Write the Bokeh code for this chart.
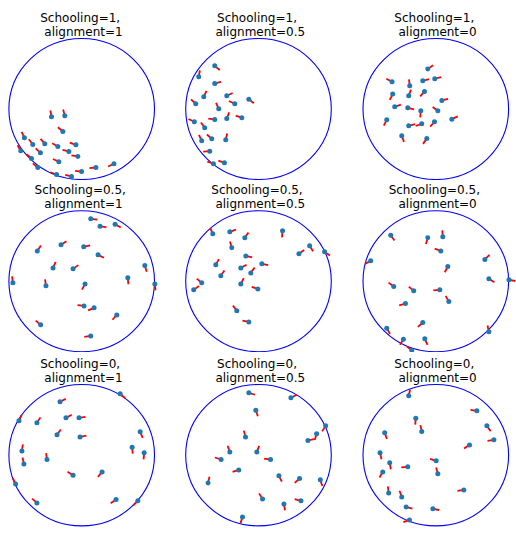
from bokeh.plotting import figure
from bokeh.layouts import column, row
from bokeh.models import Range1d, ColumnDataSource
from bokeh.embed import file_html
from bokeh.resources import INLINE
from bokeh.core.properties import value

schooling_levels = ["1", "0.5", "0"]
alignment_levels = ["1", "0.5", "0"]

# fish positions (unit circle) and heading angles (degrees) per panel
s1_a1_x = [-0.415, -0.232, -0.259, -0.787, -0.672, -0.507, -0.328, -0.080, -0.837, -0.567,
           -0.177, -0.053, -0.690, -0.314, -0.603, 0.195, 0.443, -0.002, -0.346, -0.140]
s1_a1_y = [-0.110, -0.097, -0.319, -0.408, -0.503, -0.494, -0.532, -0.508, -0.593, -0.622,
           -0.602, -0.673, -0.702, -0.749, -0.830, -0.830, -0.777, -0.887, -0.929, -0.957]
s1_a1_dir = [100, 105, 140, 115, 127, 130, 150, 160, 120, 137,
             165, 170, 140, 155, 140, 185, 205, 175, 160, 165]

s1_a05_x = [-0.601, -0.821, -0.601, -0.752, -0.436, -0.133, -0.862, -0.326, -0.546, -0.881,
            -0.601, -0.436, -0.229, -0.739, -0.780, -0.642, -0.450, -0.670, -0.619, -0.468]
s1_a05_y = [0.612, 0.457, 0.362, 0.173, 0.188, 0.140, 0.074, 0.074, 0.003, -0.181,
            -0.148, -0.134, -0.125, -0.267, -0.452, -0.423, -0.437, -0.598, -0.777, -0.763]
s1_a05_dir = [320, 80, 15, 65, 25, 320, 137, 155, 115, 155,
              172, 68, 160, 125, 115, 138, 77, 185, 160, 160]

s1_a0_x = [-0.110, -0.601, -0.358, -0.179, -0.014, -0.592, -0.372, -0.156, 0.083, -0.564,
           -0.385, -0.206, 0.028, -0.674, -0.372, -0.193, -0.018, 0.220, -0.468, -0.124]
s1_a0_y = [0.566, 0.386, 0.329, 0.400, 0.429, 0.211, 0.188, 0.249, 0.121, 0.031,
           0.017, -0.026, -0.026, -0.154, -0.238, -0.210, -0.181, -0.144, -0.380, -0.419]
s1_a0_dir = [37, 152, 97, 15, 15, 243, 70, 230, 15, 20,
             347, 265, 143, 243, 15, 200, 228, 25, 290, 235]

s05_a1_x = [0.124, 0.252, 0.459, -0.284, 0.028, -0.610, 0.225, -0.394, -0.119, 0.867,
            0.633, -0.945, -0.491, 0.046, 1.005, 0.032, 0.170, 0.482, -0.564, 0.124]
s05_a1_y = [0.885, 0.781, 0.809, 0.516, 0.487, 0.430, 0.374, 0.189, 0.175, 0.222,
            0.048, -0.023, -0.066, -0.038, -0.038, -0.350, -0.378, -0.478, -0.619, -0.776]
s05_a1_dir = [352, 348, 330, 33, 13, 56, 333, 65, 35, 287,
              275, 97, 98, 242, 275, 173, 203, 228, 140, 188]

s05_a05_x = [-0.628, -0.394, -0.188, 0.330, -0.367, 0.702, 0.555, 0.908, -0.174, -0.587,
             0.046, -0.243, -0.106, -0.518, -0.780, -0.243, -0.890, -0.009, -0.298, -0.133]
s05_a05_y = [0.672, 0.700, 0.615, 0.714, 0.473, 0.502, 0.388, 0.416, 0.359, 0.232,
             0.246, 0.189, 0.118, 0.076, -0.023, -0.038, -0.123, -0.109, -0.420, -0.577]
s05_a05_dir = [113, 20, 56, 265, 106, 302, 36, 325, 347, 61,
               348, 28, 54, 56, 140, 63, 36, 162, 127, 168]

s05_a0_x = [-0.619, -0.110, 0.096, 0.069, -0.894, 0.674, 0.165, 0.729, 1.005, -0.578,
            -0.303, 0.055, 0.179, -0.417, -0.179, -0.674, 0.729, -0.445, -0.151, -0.330]
s05_a0_y = [0.653, 0.615, 0.629, 0.430, 0.289, 0.308, 0.209, 0.033, 0.019, -0.076,
            -0.137, -0.123, -0.288, -0.317, -0.586, -0.667, -0.718, -0.822, -0.818, -0.983]
s05_a0_dir = [305, 253, 95, 160, 208, 45, 242, 328, 350, 143,
              140, 184, 120, 196, 222, 300, 102, 238, 295, 140]

s0_a1_x = [0.528, -0.298, -0.862, -0.615, -0.216, -0.037, -0.339, -0.023, 0.803, 0.693,
           0.858, -0.821, -0.794, -0.477, -0.119, 0.280, -0.908, -0.615, 0.472, 0.771]
s0_a1_y = [0.868, 0.755, 0.486, 0.458, 0.528, 0.528, 0.288, 0.259, 0.330, 0.113,
           0.033, 0.061, -0.123, -0.061, -0.283, -0.236, -0.406, -0.675, -0.627, -0.646]
s0_a1_dir = [320, 27, 65, 57, 28, 9, 54, 12, 293, 275,
             265, 82, 102, 98, 148, 230, 115, 138, 214, 225]

s0_a05_x = [-0.133, 0.445, -0.037, 0.922, 0.798, -0.179, 0.679, -0.394, -0.023, -0.514,
            0.165, -0.271, -0.693, 0.280, 0.564, 0.849, 0.055, 0.349, 0.583, -0.220]
s0_a05_y = [0.882, 0.811, 0.637, 0.415, 0.302, 0.259, 0.208, 0.047, 0.047, -0.061,
            -0.061, -0.208, -0.392, -0.292, -0.330, -0.349, -0.618, -0.689, -0.646, -0.873]
s0_a05_dir = [343, 28, 288, 238, 253, 105, 13, 110, 69, 162,
              172, 198, 77, 297, 222, 288, 122, 280, 165, 253]

s0_a0_x = [-0.372, 0.564, -0.275, -0.193, 0.702, -0.702, 0.798, 0.463, -0.766, 0.005,
           -0.633, -0.385, -0.729, 0.028, 0.385, -0.647, -0.468, -0.408, -0.041, -0.362]
s0_a0_y = [0.840, 0.627, 0.524, 0.335, 0.415, 0.316, 0.217, 0.146, 0.033, -0.080,
           -0.108, -0.165, -0.236, -0.264, -0.491, -0.533, -0.590, -0.731, -0.759, -0.915]
s0_a0_dir = [78, 172, 265, 102, 305, 290, 190, 213, 283, 162,
             280, 184, 240, 105, 188, 98, 110, 345, 350, 200]

panels = [
    [(s1_a1_x, s1_a1_y, s1_a1_dir), (s1_a05_x, s1_a05_y, s1_a05_dir), (s1_a0_x, s1_a0_y, s1_a0_dir)],
    [(s05_a1_x, s05_a1_y, s05_a1_dir), (s05_a05_x, s05_a05_y, s05_a05_dir), (s05_a0_x, s05_a0_y, s05_a0_dir)],
    [(s0_a1_x, s0_a1_y, s0_a1_dir), (s0_a05_x, s0_a05_y, s0_a05_dir), (s0_a0_x, s0_a0_y, s0_a0_dir)],
]

# layout (pixels)
col_w = [170, 177, 169]
col_cx = [81.2, 88.0, 88.3]
rx = 72.8
row_h = [180, 172, 182]
row_cy = [108.5, 100.7, 102.7]
ry = [70.5, 70.5, 70.7]

FISH_BLUE = "#1f77b4"

rows = []
for i in range(3):
    figs = []
    for j in range(3):
        w, h = col_w[j], row_h[i]
        cx, cy = col_cx[j], row_cy[i]
        p = figure(width=w, height=h,
                   x_range=Range1d(-cx / rx, (w - cx) / rx),
                   y_range=Range1d(-(h - cy) / ry[i], cy / ry[i]),
                   toolbar_location=None, output_backend="svg",
                   x_axis_type=None, y_axis_type=None, min_border=0,
                   outline_line_color=None, background_fill_color="white",
                   border_fill_color="white")
        p.grid.grid_line_color = None
        xs, ys, ds = panels[i][j]
        src = ColumnDataSource(dict(x=xs, y=ys, d=ds))
        p.ellipse(x=0, y=0, width=2, height=2, fill_color=None,
                  line_color="blue", line_width=1.1)
        p.ray(x="x", y="y", length=6.5, length_units="screen", angle="d",
              angle_units="deg", line_color="red", line_width=1.8, source=src)
        p.scatter(x="x", y="y", size=5, fill_color=FISH_BLUE,
                  line_color=None, source=src)
        p.text(x=[0], y=[1], text=[f"Schooling={schooling_levels[i]},"],
               x_offset=-1.5, y_offset=-20.6, text_align="center",
               text_baseline="alphabetic", text_font=value("DejaVu Sans"),
               text_font_size="12px", text_color="black")
        p.text(x=[0], y=[1], text=[f"alignment={alignment_levels[j]}"],
               x_offset=1.8, y_offset=-6.6, text_align="center",
               text_baseline="alphabetic", text_font=value("DejaVu Sans"),
               text_font_size="12px", text_color="black")
        figs.append(p)
    rows.append(row(*figs))

layout = column(*rows)
open("out.html", "w").write(file_html(layout, INLINE))
